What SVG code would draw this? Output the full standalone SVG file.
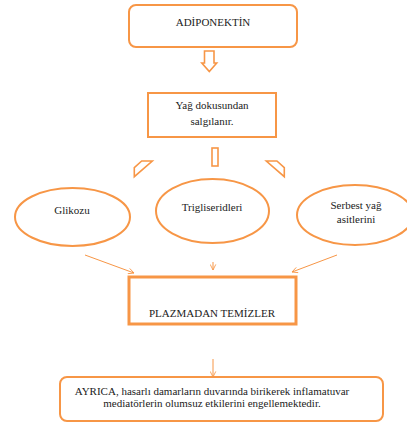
<svg xmlns="http://www.w3.org/2000/svg" width="407" height="423" viewBox="0 0 407 423">
<defs>
<marker id="ah" viewBox="0 0 10 10" refX="9" refY="5" markerWidth="7" markerHeight="7" orient="auto" markerUnits="userSpaceOnUse">
<path d="M1,1 L9,5 L1,9" fill="none" stroke="#F79646" stroke-width="1.2"/>
</marker>
</defs>
<rect width="407" height="423" fill="#fff"/>
<g id="adiponektin">
<rect x="129" y="5" width="168" height="42" rx="7" fill="#fff" stroke="#F79646" stroke-width="2"/>
</g>
<g id="yag">
<rect x="148" y="93" width="128" height="44" fill="#fff" stroke="#F79646" stroke-width="2"/>
</g>
<g id="glikozu">
<ellipse cx="72.5" cy="217" rx="57.5" ry="29" fill="#fff" stroke="#F79646" stroke-width="2"/>
</g>
<g id="trigliseridleri">
<ellipse cx="212.5" cy="211" rx="56.5" ry="32" fill="#fff" stroke="#F79646" stroke-width="2"/>
</g>
<g id="serbest">
<ellipse cx="355" cy="215" rx="58" ry="30" fill="#fff" stroke="#F79646" stroke-width="2"/>
</g>
<g id="plazma">
<rect x="129" y="277" width="167" height="47" fill="#fff" stroke="#F79646" stroke-width="3"/>
</g>
<g id="ayrica">
<rect x="60" y="377" width="323" height="44" rx="7" fill="#fff" stroke="#F79646" stroke-width="2"/>
</g>
<g id="connectors" fill="none" stroke="#F79646">
<path stroke-width="1.6" d="M204.5,51 H214 V63 H216.7 L209.3,71.5 L201.8,63 H204.5 Z"/>
<rect stroke-width="1.6" x="212" y="148" width="6" height="18"/>
<polygon stroke-width="1.6" points="141.7,161 152.3,161 134.3,176.7 134.3,167.7"/>
<polygon stroke-width="1.6" points="276.9,161 266.3,161 284.3,176.7 284.3,167.7"/>
<line x1="85" y1="255" x2="134" y2="273" marker-end="url(#ah)"/>
<line x1="213" y1="262" x2="213" y2="270" marker-end="url(#ah)"/>
<line x1="337" y1="255" x2="292" y2="272" marker-end="url(#ah)"/>
<line x1="213" y1="359" x2="213" y2="377" marker-end="url(#ah)"/>
</g>
<text x="213" y="26" font-family="Liberation Serif" font-size="11" fill="#222" text-anchor="middle">ADİPONEKTİN</text>
<text x="212" y="109" font-family="Liberation Serif" font-size="11" fill="#222" text-anchor="middle">Yağ dokusundan</text>
<text x="212" y="125" font-family="Liberation Serif" font-size="11" fill="#222" text-anchor="middle">salgılanır.</text>
<text x="72" y="214" font-family="Liberation Serif" font-size="11" fill="#222" text-anchor="middle">Glikozu</text>
<text x="212" y="211" font-family="Liberation Serif" font-size="11" fill="#222" text-anchor="middle">Trigliseridleri</text>
<text x="356" y="209" font-family="Liberation Serif" font-size="11" fill="#222" text-anchor="middle">Serbest yağ</text>
<text x="356" y="223" font-family="Liberation Serif" font-size="11" fill="#222" text-anchor="middle">asitlerini</text>
<text x="212" y="317" font-family="Liberation Serif" font-size="11" fill="#222" text-anchor="middle">PLAZMADAN TEMİZLER</text>
<text x="212" y="395" font-family="Liberation Serif" font-size="11" fill="#222" text-anchor="middle">AYRICA, hasarlı damarların duvarında birikerek inflamatuvar</text>
<text x="212" y="407" font-family="Liberation Serif" font-size="11" fill="#222" text-anchor="middle">mediatörlerin olumsuz etkilerini engellemektedir.</text>
</svg>
